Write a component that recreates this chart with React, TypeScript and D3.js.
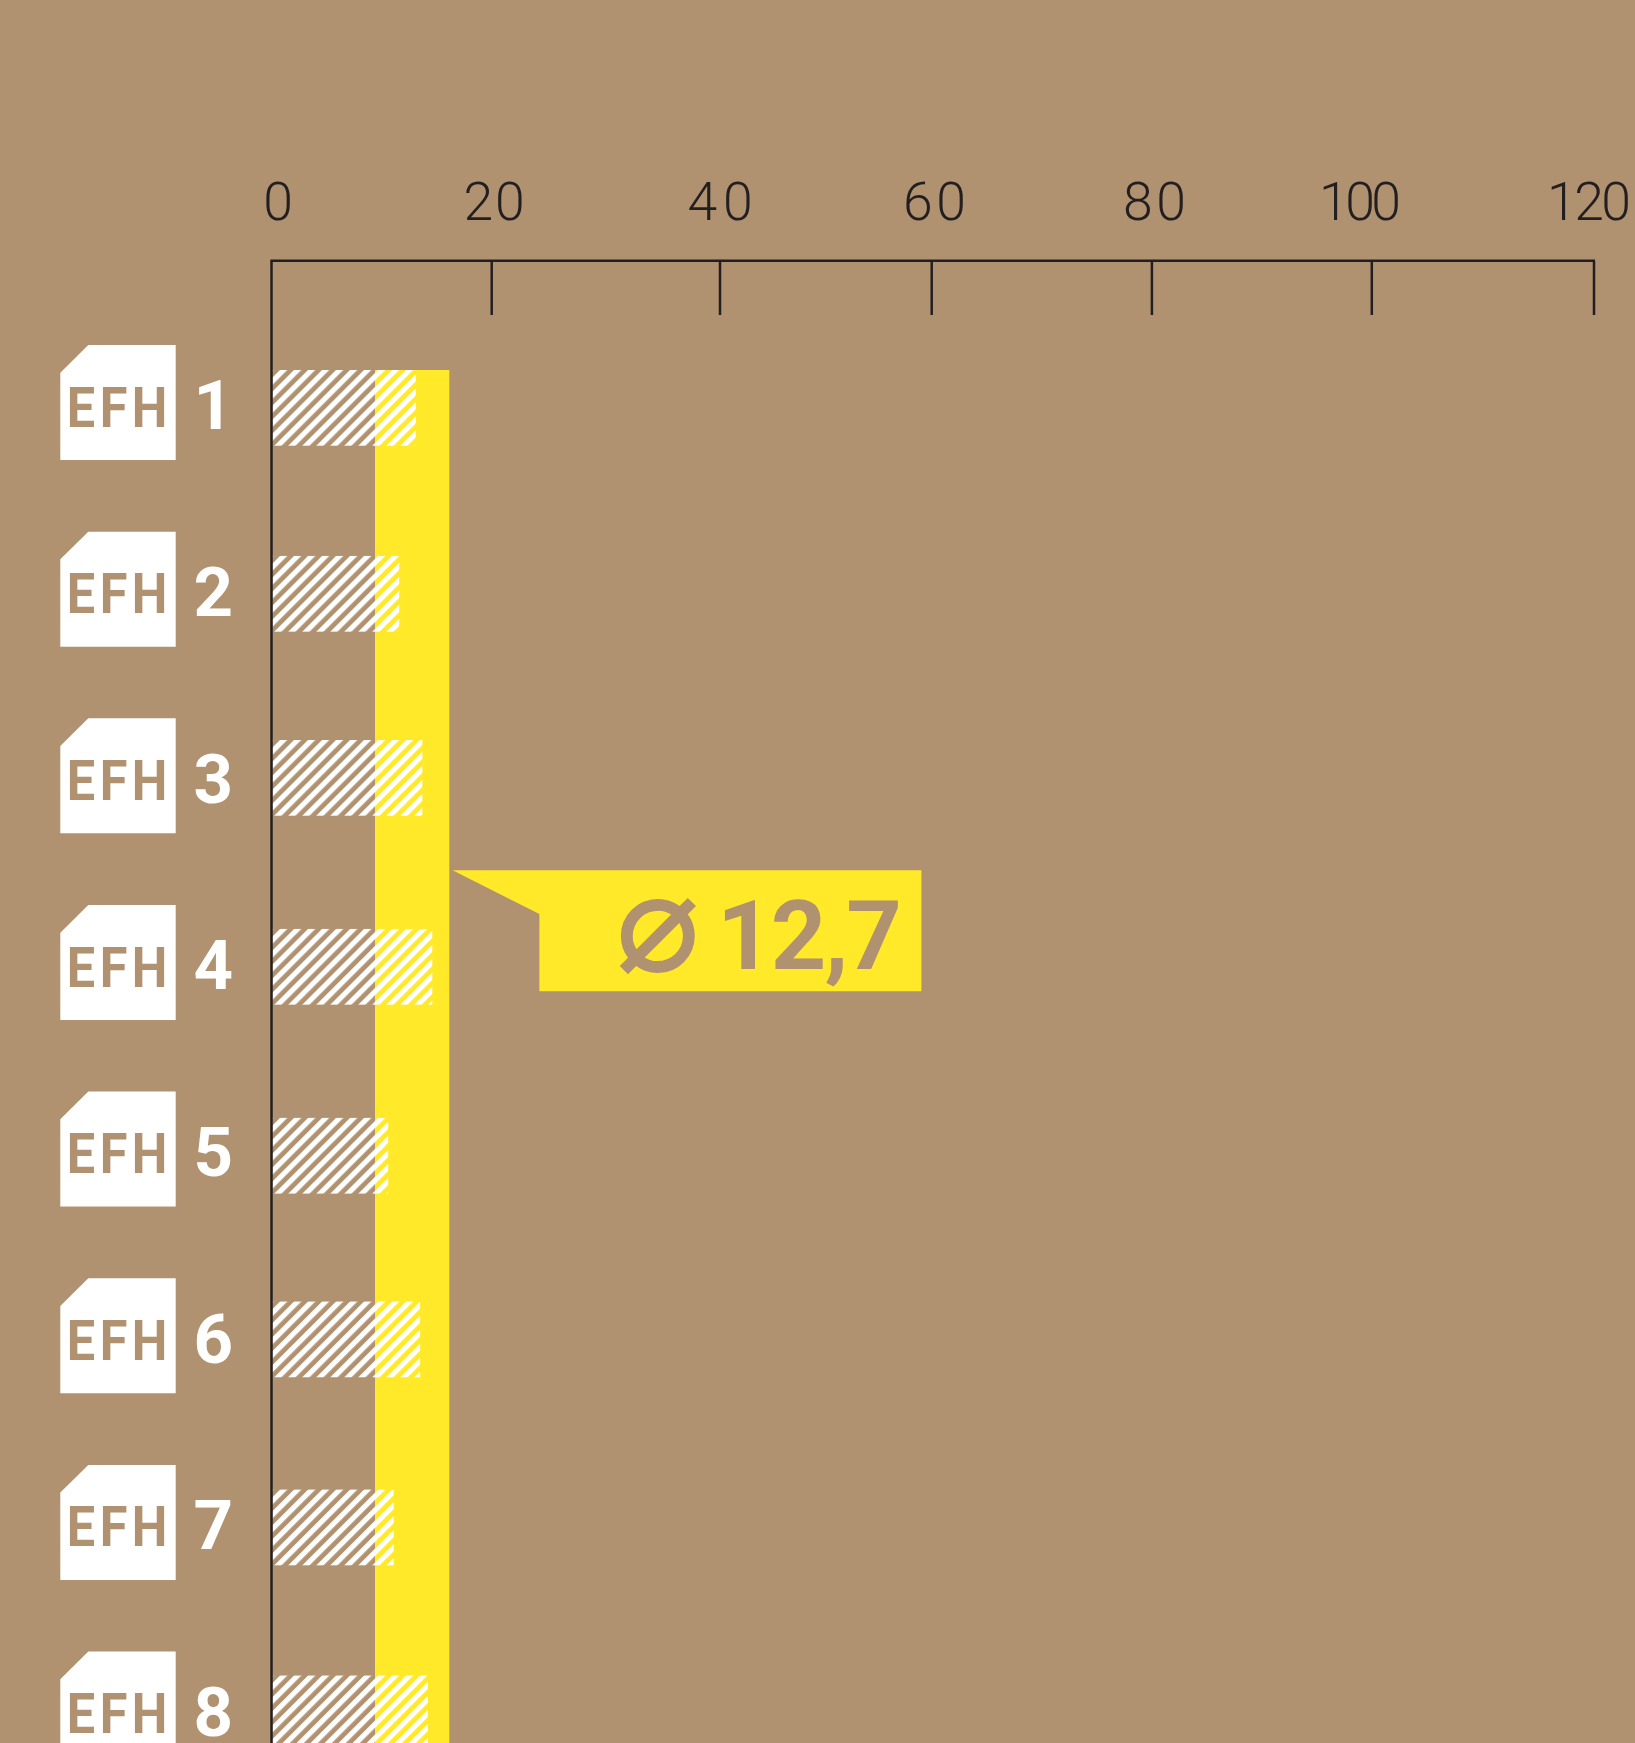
import React from "react";
import * as d3 from "d3";

const WIDTH = 1635;
const HEIGHT = 1743;

const BROWN = "#b09270";
const YELLOW = "#ffe928";
const INK = "#231f20";
const WHITE = "#ffffff";

// Consumption per house
const houseIds = [1, 2, 3, 4, 5, 6, 7, 8];
const houseType = "EFH";
const houseValues = [13.1, 11.6, 13.7, 14.6, 10.6, 13.5, 11.1, 14.2];
const averageSymbol = "\u2300";
const averageLabel = "12,7";
const bandLow = 9.4;
const bandHigh = 16.15;

// The printed axis has unevenly spaced ticks, so the scale is piecewise
const tickValues = [0, 20, 40, 60, 80, 100, 120];
const tickPixels = [271.5, 491.7, 720, 931.7, 1151.9, 1371.8, 1594];
const tickLabelEdges = [291, 522.6, 750.6, 964, 1184, 1399, 1629];
const tickLabelWidths = [27, 61, 65, 63, 63, 82, 84];

const x = d3.scaleLinear().domain(tickValues).range(tickPixels);
const rowTop = d3
  .scalePoint<number>()
  .domain(houseIds)
  .range([345, 345 + 7 * 186.65]);

// Bars sit slightly unevenly against their house icons
const barDrop = [25, 24.3, 21.7, 24, 26.3, 23.3, 24.7, 24];
const BAR_HEIGHT = 75.7;
const BAR_START = 272.3;
const AXIS_Y = 260.7;
const TICK_END = 315;
const HOUSE_LEFT = 60.3;
const HOUSE_SIZE = 115.4;
const HOUSE_CUT_X = 28;
const HOUSE_CUT_Y = 27.7;

const housePath = (top: number) => {
  const p = d3.path();
  p.moveTo(HOUSE_LEFT + HOUSE_CUT_X, top);
  p.lineTo(HOUSE_LEFT + HOUSE_SIZE, top);
  p.lineTo(HOUSE_LEFT + HOUSE_SIZE, top + 115);
  p.lineTo(HOUSE_LEFT, top + 115);
  p.lineTo(HOUSE_LEFT, top + HOUSE_CUT_Y);
  p.closePath();
  return p.toString();
};

const calloutPath = () => {
  const p = d3.path();
  p.moveTo(452.6, 870.3);
  p.lineTo(921.4, 870.3);
  p.lineTo(921.4, 991.3);
  p.lineTo(539.4, 991.3);
  p.lineTo(539.4, 914);
  p.closePath();
  return p.toString();
};

const sans = "Roboto, 'Noto Sans', sans-serif";

export default function App() {
  return (
    <svg
      width={WIDTH}
      height={HEIGHT}
      viewBox={`0 0 ${WIDTH} ${HEIGHT}`}
      style={{ position: "absolute", left: 0, top: 0, display: "block" }}
    >
      <defs>
        {houseIds.map((id, i) => (
          <pattern
            key={id}
            id={`hatch-${id}`}
            patternUnits="userSpaceOnUse"
            width={9.9}
            height={9.9}
            patternTransform={`translate(${BAR_START},${rowTop(id)! + barDrop[i]}) rotate(45) translate(5.44,0)`}
          >
            <rect x={0} y={0} width={5.16} height={9.9} fill={WHITE} />
          </pattern>
        ))}
      </defs>

      <rect width={WIDTH} height={HEIGHT} fill={BROWN} />

      {/* average band */}
      <rect
        x={x(bandLow)}
        y={370}
        width={x(bandHigh) - x(bandLow)}
        height={HEIGHT - 370}
        fill={YELLOW}
      />

      {/* hatched bars */}
      {houseIds.map((id, i) => (
        <rect
          key={id}
          x={BAR_START}
          y={rowTop(id)! + barDrop[i]}
          width={x(houseValues[i]) - BAR_START}
          height={BAR_HEIGHT}
          fill={`url(#hatch-${id})`}
        />
      ))}

      {/* axis */}
      <g stroke={INK} strokeWidth={2.5} fill="none">
        <line x1={x(0) - 1} x2={x(120) + 1} y1={AXIS_Y} y2={AXIS_Y} />
        <line x1={x(0)} x2={x(0)} y1={AXIS_Y} y2={HEIGHT} />
        {tickValues.slice(1).map((t) => (
          <line key={t} x1={x(t)} x2={x(t)} y1={AXIS_Y} y2={TICK_END} />
        ))}
      </g>
      {tickValues.map((t, i) => (
        <text
          key={t}
          x={tickLabelEdges[i] + 2}
          y={220}
          textAnchor="end"
          textLength={tickLabelWidths[i]}
          lengthAdjust="spacing"
          fontFamily={sans}
          fontWeight={300}
          fontSize={53.5}
          fill={INK}
        >
          {t}
        </text>
      ))}

      {/* house icons with their numbers */}
      {houseIds.map((id) => {
        const top = rowTop(id)!;
        return (
          <g key={id}>
            <path d={housePath(top)} fill={WHITE} />
            <text
              transform="scale(0.9,1)"
              x="74.2 110.9 146.4"
              y={top + 81.6}
              fontFamily={sans}
              fontWeight={700}
              fontSize={56}
              fill={BROWN}
            >
              {houseType}
            </text>
            <text
              x={233}
              y={top + 84.3}
              textAnchor="end"
              fontFamily={sans}
              fontWeight={700}
              fontSize={69}
              fill={WHITE}
            >
              {id}
            </text>
          </g>
        );
      })}

      {/* average callout */}
      <path d={calloutPath()} fill={YELLOW} />
      <text
        x={658}
        y={971}
        textAnchor="middle"
        fontFamily="'DejaVu Sans', sans-serif"
        fontWeight={700}
        fontSize={141}
        fill={BROWN}
      >
        {averageSymbol}
      </text>
      <text
        x={717}
        y={969}
        textLength={185}
        lengthAdjust="spacing"
        fontFamily={sans}
        fontWeight={700}
        fontSize={97}
        fill={BROWN}
      >
        {averageLabel}
      </text>
    </svg>
  );
}
